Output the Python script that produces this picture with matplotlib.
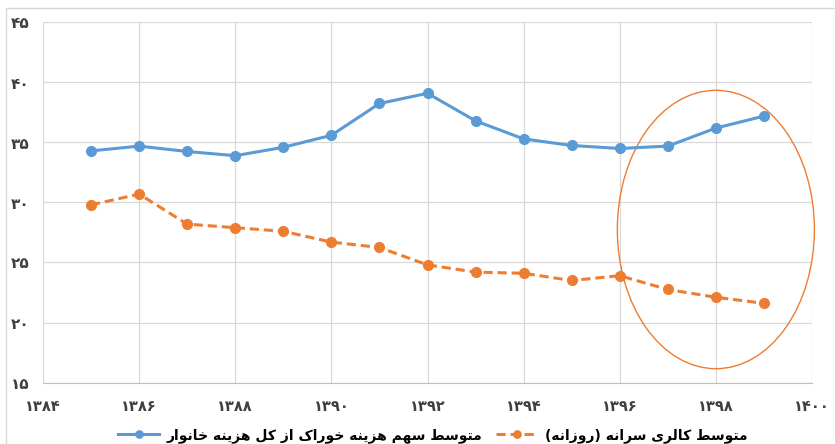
import matplotlib.pyplot as plt
from matplotlib.patches import Ellipse, Rectangle
import numpy as np

years = [1385, 1386, 1387, 1388, 1389, 1390, 1391, 1392,
         1393, 1394, 1395, 1396, 1397, 1398, 1399]
food_share = [34.3, 34.7, 34.25, 33.9, 34.6, 35.6, 38.25, 39.1,
              36.8, 35.3, 34.75, 34.5, 34.7, 36.2, 37.2]
calories = [29.8, 30.7, 28.2, 27.9, 27.6, 26.7, 26.25, 24.8,
            24.2, 24.1, 23.5, 23.9, 22.75, 22.1, 21.6]
x_ticks = [1384, 1386, 1388, 1390, 1392, 1394, 1396, 1398, 1400]
y_ticks = [15, 20, 25, 30, 35, 40, 45]
label_share = "متوسط سهم هزینه خوراک از کل هزینه خانوار"
label_cal = "متوسط کالری سرانه (روزانه)"

# presentation forms: isolated, final, initial, medial (None -> right-joining only)
FORMS = {
    'ا': ('\uFE8D', '\uFE8E', None, None),
    'ت': ('\uFE95', '\uFE96', '\uFE97', '\uFE98'),
    'خ': ('\uFEA5', '\uFEA6', '\uFEA7', '\uFEA8'),
    'ر': ('\uFEAD', '\uFEAE', None, None),
    'ز': ('\uFEAF', '\uFEB0', None, None),
    'س': ('\uFEB1', '\uFEB2', '\uFEB3', '\uFEB4'),
    'ط': ('\uFEC1', '\uFEC2', '\uFEC3', '\uFEC4'),
    'ل': ('\uFEDD', '\uFEDE', '\uFEDF', '\uFEE0'),
    'م': ('\uFEE1', '\uFEE2', '\uFEE3', '\uFEE4'),
    'ن': ('\uFEE5', '\uFEE6', '\uFEE7', '\uFEE8'),
    'ه': ('\uFEE9', '\uFEEA', '\uFEEB', '\uFEEC'),
    'و': ('\uFEED', '\uFEEE', None, None),
    'ک': ('\uFB8E', '\uFB8F', '\uFB90', '\uFB91'),
    'ی': ('\uFBFC', '\uFBFD', '\uFBFE', '\uFBFF'),
}


def dual(c):
    return c in FORMS and FORMS[c][2] is not None


def rtl(text):
    out = []
    for i, c in enumerate(text):
        if c not in FORMS:
            out.append(c)
            continue
        prev = text[i - 1] if i > 0 else ''
        nxt = text[i + 1] if i + 1 < len(text) else ''
        join_prev = dual(prev)
        join_next = dual(c) and nxt in FORMS
        iso, fin, ini, med = FORMS[c]
        if join_prev and join_next:
            out.append(med)
        elif join_prev:
            out.append(fin)
        elif join_next:
            out.append(ini)
        else:
            out.append(iso)
    s = ''.join(reversed(out))
    return s.translate(str.maketrans('()', ')('))


def fa_num(n):
    return str(n).translate(str.maketrans('0123456789', '۰۱۲۳۴۵۶۷۸۹'))


plt.rcParams['font.family'] = ['DejaVu Sans']

fig = plt.figure(figsize=(8.35, 4.44), dpi=100)
ax = fig.add_axes([43 / 835, 1 - 382.5 / 444, 769 / 835, 360 / 444])

blue = '#5B9BD5'
orange = '#ED7D31'

ax.plot(years, food_share, '-o', color=blue, lw=2.2, ms=7,
        label=rtl(label_share))
ax.plot(years, calories, '--o', color=orange, lw=2.2, ms=7,
        dashes=(3, 1.6), label=rtl(label_cal))

ax.add_patch(Ellipse((1398, 27.75), 4.1, 23.2, fill=False,
                     edgecolor=orange, lw=1.0, clip_on=False))

ax.set_xlim(1384, 1400)
ax.set_ylim(15, 45)
ax.set_xticks(x_ticks)
ax.set_yticks(y_ticks)
ax.set_xticklabels([fa_num(v) for v in x_ticks], fontsize=10.5,
                   fontweight='bold', color='#404040')
ax.set_yticklabels([fa_num(v) for v in y_ticks], fontsize=11,
                   fontweight='bold', color='#404040')
ax.tick_params(axis='x', length=0, pad=12)
ax.tick_params(axis='y', length=0, pad=10)
ax.grid(color='#D9D9D9', lw=0.9)
ax.set_axisbelow(True)
for s in ['top', 'right', 'left']:
    ax.spines[s].set_visible(False)
ax.spines['bottom'].set_color('#BFBFBF')

fig.legend(loc='lower center', bbox_to_anchor=(0.518, -0.025), ncol=2,
           frameon=False, prop={'size': 10, 'weight': 'bold'},
           handlelength=3.0, columnspacing=1.0, handletextpad=0.5,
           markerscale=0.75)

fig.patches.append(Rectangle((6 / 835, -0.1), 1.2, 1 - 8 / 444 + 0.1,
                             transform=fig.transFigure, fill=False,
                             edgecolor='#D9D9D9', lw=1))

fig.savefig('out.png', dpi=100)
